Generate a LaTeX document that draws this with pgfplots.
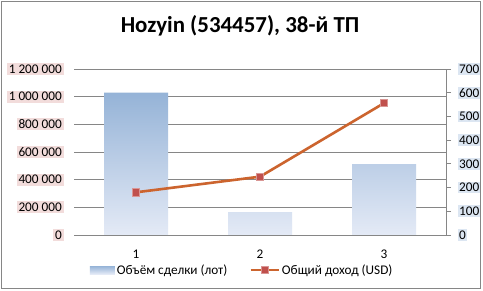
\documentclass[border=0pt]{standalone}
\usepackage{fontspec}
\setmainfont{Carlito}
\usepackage{pgfplots}
\pgfplotsset{compat=1.18}
\definecolor{barTop}{RGB}{149,179,215}
\definecolor{barBot}{RGB}{228,234,246}
\definecolor{lineC}{RGB}{204,100,46}
\definecolor{markC}{RGB}{192,80,77}
\definecolor{gridC}{RGB}{134,134,134}
\definecolor{pinkBg}{RGB}{242,220,219}
\definecolor{blueBg}{RGB}{220,230,242}
\begin{document}
\begin{tikzpicture}
\useasboundingbox (0,0) rectangle (483bp,291bp);
\fill[white] (0,0) rectangle (483bp,291bp);
\draw[gridC, line width=1bp] (1.3bp,2.7bp) rectangle (480.7bp,289.7bp);
\node[font=\fontsize{23}{27}\selectfont\bfseries] at (240bp,265bp) {Hozyin (534457), 38-й ТП};
\begin{axis}[
  at={(74bp,56bp)}, anchor=south west,
  scale only axis, width=372bp, height=166bp,
  xmin=0.5, xmax=3.5, ymin=0, ymax=1200000,
  ytick={0,200000,400000,600000,800000,1000000,1200000},
  yticklabels={0,200 000,400 000,600 000,800 000,1 000 000,1 200 000},
  xtick={1,2,3},
  xticklabels={1,2,3},
  scaled y ticks=false,
  axis line style={draw=none},
  major tick length=0pt,
  ymajorgrids, major grid style={gridC, line width=0.9bp},
  tick label style={font=\fontsize{13.3}{15}\selectfont},
  yticklabel style={anchor=east, xshift=-10bp, fill=pinkBg, inner xsep=2bp, inner ysep=1.5bp},
  xticklabel style={yshift=-11bp},
]
\addplot[ybar, bar width=64bp, draw=none, top color=barTop, bottom color=barBot]
  coordinates {(1,1030000) (2,166000) (3,513000)};
\end{axis}
\begin{axis}[
  at={(74bp,56bp)}, anchor=south west,
  scale only axis, width=372bp, height=166bp,
  xmin=0.5, xmax=3.5, ymin=0, ymax=700,
  ytick={0,100,200,300,400,500,600,700},
  yticklabels={0,100,200,300,400,500,600,700},
  axis x line=none,
  axis y line*=right,
  axis line style={gridC, line width=0.9bp, -},
  tick style={gridC, line width=0.9bp},
  tick align=outside, major tick length=5bp,
  tick label style={font=\fontsize{13.3}{15}\selectfont},
  yticklabel style={anchor=west, xshift=7bp, fill=blueBg, inner xsep=1bp, inner ysep=1.5bp},
  legend style={at={(0.452,-0.211)}, anchor=center, draw=none, fill=none,
    font=\fontsize{13.3}{15}\selectfont, inner sep=0pt,
    /tikz/every even column/.append style={column sep=20bp}},
  legend columns=-1,
]
\addlegendimage{legend image code/.code={\path[draw=none, top color=barTop, bottom color=barBot] (0bp,-4bp) rectangle (25bp,4bp);}}
\addlegendentry{Объём сделки (лот)}
\addplot[lineC, line width=2.6bp, mark=square*, mark size=3.6bp,
  mark options={fill=markC, draw=markC!60!white, line width=0.6bp},
  legend image code/.code={\draw[mark repeat=2,mark phase=2] plot coordinates {(0bp,0bp) (14bp,0bp) (28bp,0bp)};}]
  coordinates {(1,180) (2,246) (3,556)};
\addlegendentry{Общий доход (USD)}
\end{axis}
\end{tikzpicture}
\end{document}
